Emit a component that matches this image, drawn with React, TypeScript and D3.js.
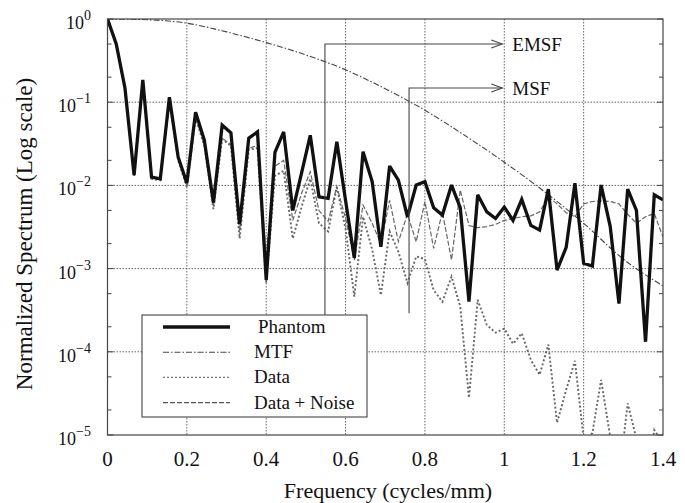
import { useEffect, useRef } from "react";
import * as d3 from "d3";

// sample frequencies (cycles/mm)
const FREQ = [
  0, 0.022, 0.044, 0.067, 0.089, 0.111, 0.133, 0.156, 0.178, 0.2, 0.222, 0.244,
  0.267, 0.289, 0.311, 0.333, 0.356, 0.378, 0.4, 0.422, 0.444, 0.467, 0.489,
  0.511, 0.533, 0.556, 0.578, 0.6, 0.622, 0.644, 0.667, 0.689, 0.711, 0.733,
  0.756, 0.778, 0.8, 0.822, 0.844, 0.867, 0.889, 0.911, 0.933, 0.956, 0.978,
  1.0, 1.022, 1.044, 1.067, 1.089, 1.111, 1.133, 1.156, 1.178, 1.2, 1.222,
  1.244, 1.267, 1.289, 1.311, 1.333, 1.356, 1.378, 1.4,
];

const PHANTOM = [
  1.0, 0.5, 0.148, 0.0133, 0.186, 0.0126, 0.012, 0.115, 0.022, 0.0107,
  0.076, 0.035, 0.0062, 0.053, 0.043, 0.0034, 0.037, 0.044, 0.00073, 0.025,
  0.044, 0.005, 0.014, 0.04, 0.0073, 0.007, 0.0335, 0.0066, 0.00134, 0.0254,
  0.0111, 0.00183, 0.0171, 0.0116, 0.0042, 0.0101, 0.0111, 0.0054, 0.0044, 0.0101,
  0.0054, 0.0004, 0.0077, 0.0048, 0.004, 0.0055, 0.0038, 0.0068, 0.0033, 0.0029,
  0.009, 0.00096, 0.0018, 0.0106, 0.00116, 0.00107, 0.0101, 0.0032, 0.00038, 0.009,
  0.005, 0.000132, 0.0077, 0.0067,
];

const DATA = [
  1.0, 0.49, 0.145, 0.013, 0.18, 0.012, 0.0115, 0.105, 0.02, 0.0095,
  0.065, 0.03, 0.0052, 0.036, 0.03, 0.0023, 0.027, 0.028, 0.00067, 0.013,
  0.015, 0.0023, 0.0055, 0.012, 0.0035, 0.0028, 0.0095, 0.003, 0.00046, 0.0042,
  0.0017, 0.00048, 0.0028, 0.0016, 0.00067, 0.0014, 0.0013, 0.00055, 0.0004, 0.0008,
  0.00035, 0.000028, 0.00042, 0.00021, 0.00017, 0.00019, 0.000125, 0.000167, 0.00008, 0.000053,
  0.000122, 0.000014, 0.000035, 0.000078, 0.000009, 0.0000105, 0.000046, 0.0000095, 0.000003, 0.000024,
  0.000009, 0.000002, 0.0000115, 0.000008,
];

const DATA_NOISE = [
  1.0, 0.49, 0.146, 0.0135, 0.18, 0.0125, 0.012, 0.106, 0.021, 0.0098,
  0.066, 0.031, 0.0056, 0.037, 0.031, 0.0028, 0.028, 0.03, 0.0014, 0.017,
  0.02, 0.0038, 0.008, 0.0146, 0.005, 0.0037, 0.0097, 0.004, 0.00126, 0.0058,
  0.0035, 0.002, 0.0066, 0.0021, 0.0045, 0.0021, 0.0064, 0.00175, 0.0048, 0.00127,
  0.0088, 0.0033, 0.0031, 0.0032, 0.0034, 0.0038, 0.004, 0.0042, 0.0043, 0.0048,
  0.0073, 0.006, 0.0047, 0.0042, 0.006, 0.0064, 0.0065, 0.0064, 0.006, 0.0045,
  0.0035, 0.0042, 0.0046, 0.0024,
];

// MTF read at coarser steps
const MTF_FREQ = [0, 0.1, 0.2, 0.3, 0.4, 0.5, 0.6, 0.7, 0.8, 0.9, 1.0, 1.1, 1.2, 1.3, 1.4];
const MTF = [1.0, 0.98, 0.89, 0.7, 0.52, 0.37, 0.245, 0.145, 0.08, 0.04, 0.019, 0.0085, 0.0035, 0.0013, 0.00062];

const X_TICKS = [0, 0.2, 0.4, 0.6, 0.8, 1.0, 1.2, 1.4];
const X_LABELS = ["0", "0.2", "0.4", "0.6", "0.8", "1", "1.2", "1.4"];
const Y_EXPONENTS = [0, -1, -2, -3, -4, -5];

// marked frequencies: [label, freq, arrow level, bottom level]
const MARKERS: [string, number, number, number][] = [
  ["EMSF", 0.548, 0.5, 0.0001],
  ["MSF", 0.76, 0.148, 0.00029],
];
const ARROW_END = 0.995;

const SERIES = ["Phantom", "MTF", "Data", "Data + Noise"];

const FONT = "'Liberation Serif', 'Times New Roman', serif";

export default function App() {
  const svgRef = useRef<SVGSVGElement>(null);

  useEffect(() => {
    if (!svgRef.current) return;
    const svg = d3.select(svgRef.current);
    svg.selectAll("*").remove();

    const width = 685;
    const height = 503;
    const left = 107.5;
    const right = 663;
    const top = 19;
    const bottom = 435;

    svg.attr("width", width).attr("height", height);
    svg.append("rect").attr("width", width).attr("height", height).attr("fill", "white");

    const x = d3.scaleLinear().domain([0, 1.4]).range([left, right]);
    const y = d3.scaleLog().domain([1e-5, 1]).range([bottom, top]);

    svg
      .append("clipPath")
      .attr("id", "plot-clip")
      .append("rect")
      .attr("x", left)
      .attr("y", top)
      .attr("width", right - left)
      .attr("height", bottom - top);

    // Grid
    const grid = svg.append("g").attr("stroke", "#555").attr("stroke-width", 0.9).attr("stroke-dasharray", "1.5,1.5");
    X_TICKS.slice(1, -1).forEach((t) => {
      grid.append("line").attr("x1", x(t)).attr("x2", x(t)).attr("y1", top).attr("y2", bottom);
    });
    Y_EXPONENTS.slice(1, -1).forEach((e) => {
      grid.append("line").attr("x1", left).attr("x2", right).attr("y1", y(10 ** e)).attr("y2", y(10 ** e));
    });

    // Y ticks (major + minor at 2 and 5), inward on both sides
    const ticks = svg.append("g").attr("stroke", "#444").attr("stroke-width", 1);
    Y_EXPONENTS.forEach((e) => {
      const vals = [10 ** e];
      if (e > -5) vals.push(2 * 10 ** (e - 1), 5 * 10 ** (e - 1));
      vals.forEach((v, i) => {
        const len = i === 0 ? 6 : 4;
        ticks.append("line").attr("x1", left).attr("x2", left + len).attr("y1", y(v)).attr("y2", y(v));
        ticks.append("line").attr("x1", right).attr("x2", right - len).attr("y1", y(v)).attr("y2", y(v));
      });
    });

    // Y tick labels 10^n
    Y_EXPONENTS.forEach((e) => {
      const t = svg
        .append("text")
        .attr("x", 91)
        .attr("y", y(10 ** e) + 10)
        .attr("text-anchor", "end")
        .attr("font-family", FONT)
        .attr("font-size", 18)
        .attr("fill", "#111");
      t.append("tspan").text("10");
      t.append("tspan").attr("dy", -9).attr("font-size", 14).text(e === 0 ? "0" : `\u2212${-e}`);
    });

    // X tick labels
    X_TICKS.forEach((t, i) => {
      svg
        .append("text")
        .attr("x", x(t))
        .attr("y", 466)
        .attr("text-anchor", "middle")
        .attr("font-family", FONT)
        .attr("font-size", 21)
        .attr("fill", "#111")
        .text(X_LABELS[i]);
    });

    // Axis titles
    svg
      .append("text")
      .attr("x", 388)
      .attr("y", 498)
      .attr("text-anchor", "middle")
      .attr("font-family", FONT)
      .attr("font-size", 22)
      .attr("fill", "#111")
      .text("Frequency (cycles/mm)");

    svg
      .append("text")
      .attr("transform", "translate(32,234) rotate(-90)")
      .attr("text-anchor", "middle")
      .attr("font-family", FONT)
      .attr("font-size", 23)
      .attr("fill", "#111")
      .text("Normalized Spectrum (Log scale)");

    // Lines
    const plot = svg.append("g").attr("clip-path", "url(#plot-clip)");
    const line = d3
      .line<number>()
      .x((_, i) => x(FREQ[i]))
      .y((d) => y(d));

    plot
      .append("path")
      .attr("d", line(DATA))
      .attr("fill", "none")
      .attr("stroke", "#666")
      .attr("stroke-width", 1.9)
      .attr("stroke-dasharray", "2,2.2");

    plot
      .append("path")
      .attr("d", line(DATA_NOISE))
      .attr("fill", "none")
      .attr("stroke", "#666")
      .attr("stroke-width", 1.2)
      .attr("stroke-dasharray", "5,2");

    const mtfLine = d3
      .line<number>()
      .x((_, i) => x(MTF_FREQ[i]))
      .y((d) => y(d))
      .curve(d3.curveMonotoneX);

    plot
      .append("path")
      .attr("d", mtfLine(MTF))
      .attr("fill", "none")
      .attr("stroke", "#444")
      .attr("stroke-width", 1.1)
      .attr("stroke-dasharray", "6,2,1.5,2");

    plot
      .append("path")
      .attr("d", line(PHANTOM))
      .attr("fill", "none")
      .attr("stroke", "#111")
      .attr("stroke-width", 3.3)
      .attr("stroke-linejoin", "miter")
      .attr("stroke-miterlimit", 3);

    // EMSF / MSF markers
    MARKERS.forEach(([label, f, level, low]) => {
      const g = svg.append("g").attr("stroke", "#444").attr("stroke-width", 1.1).attr("fill", "none");
      const xs = x(f);
      const ys = y(level);
      const xe = x(ARROW_END);
      g.append("polyline").attr("points", `${xs},${y(low)} ${xs},${ys} ${xe},${ys}`);
      g.append("polyline").attr("points", `${xe - 11},${ys - 4} ${xe},${ys} ${xe - 11},${ys + 4}`);
      svg
        .append("text")
        .attr("x", xe + 10)
        .attr("y", ys + 7)
        .attr("font-family", FONT)
        .attr("font-size", 19)
        .attr("fill", "#111")
        .text(label);
    });

    // Frame
    svg
      .append("rect")
      .attr("x", left)
      .attr("y", top)
      .attr("width", right - left)
      .attr("height", bottom - top)
      .attr("fill", "none")
      .attr("stroke", "#444")
      .attr("stroke-width", 1.2);

    // Legend
    const lg = svg.append("g");
    lg.append("rect")
      .attr("x", 142)
      .attr("y", 315)
      .attr("width", 225)
      .attr("height", 102)
      .attr("fill", "white")
      .attr("stroke", "#444")
      .attr("stroke-width", 1.1);

    const styles = [
      { stroke: "#111", width: 3.3, dash: null },
      { stroke: "#444", width: 1.1, dash: "6,2,1.5,2" },
      { stroke: "#777", width: 1.4, dash: "2,2" },
      { stroke: "#555", width: 1.1, dash: "5,2" },
    ];
    SERIES.forEach((name, i) => {
      const cy = 327 + i * 25.2;
      const s = styles[i];
      lg.append("line")
        .attr("x1", 163)
        .attr("x2", 230)
        .attr("y1", cy)
        .attr("y2", cy)
        .attr("stroke", s.stroke)
        .attr("stroke-width", s.width)
        .attr("stroke-dasharray", s.dash);
      lg.append("text")
        .attr("x", i === 0 ? 258 : 254)
        .attr("y", cy + 6)
        .attr("font-family", FONT)
        .attr("font-size", 19)
        .attr("fill", "#111")
        .text(name);
    });
  }, []);

  return <svg ref={svgRef} style={{ position: "absolute", left: 0, top: 0, display: "block" }} />;
}
